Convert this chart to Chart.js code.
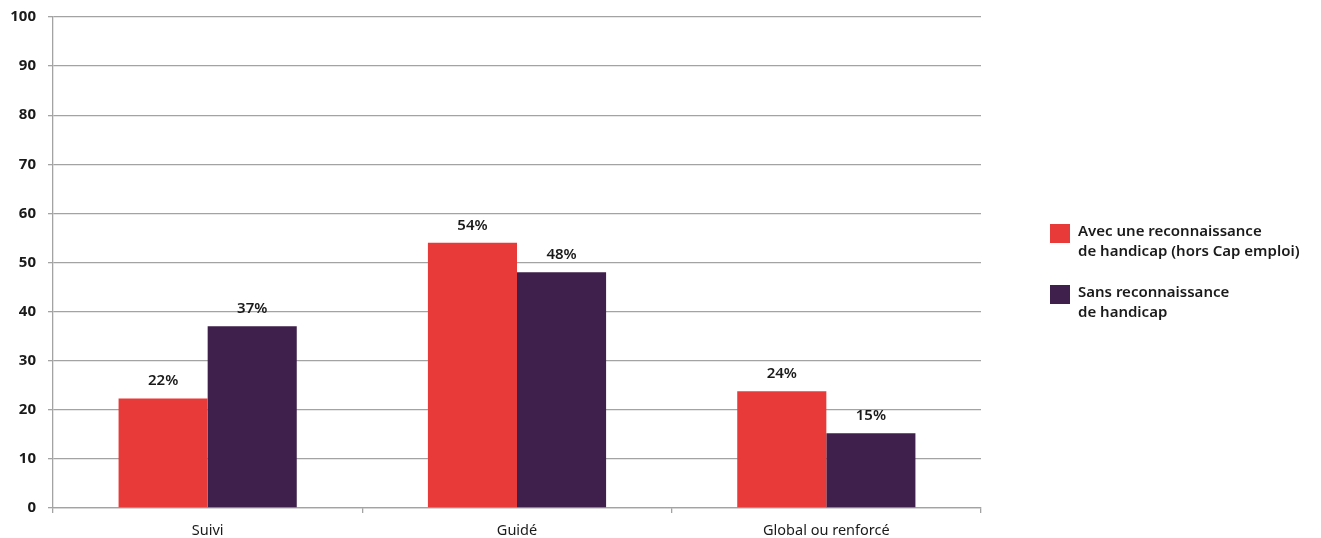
<!DOCTYPE html>
<html>
<head>
<meta charset="utf-8">
<script src="https://cdn.jsdelivr.net/npm/chart.js@4"></script>
<style>
  html, body { margin: 0; padding: 0; background: #fff; }
  #wrap { width: 1321px; height: 538px; }
</style>
</head>
<body>
<div id="wrap"><canvas id="chart" width="1321" height="538"></canvas></div>
<script>
const categories = ["Suivi", "Guidé", "Global ou renforcé"]
const avecValues = [22.3, 54, 23.8]
const sansValues = [37, 48, 15.2]
const avecLabels = ["22%", "54%", "24%"]
const sansLabels = ["37%", "48%", "15%"]
const yTicks = [0, 10, 20, 30, 40, 50, 60, 70, 80, 90, 100]
const legendLines = [
  ["Avec une reconnaissance", "de handicap (hors Cap emploi)"],
  ["Sans reconnaissance", "de handicap"],
]

const RED = "#e83a38"
const PURPLE = "#3f1f4b"
const GRID = "#a3a3a3"
const FONT = "'Noto Sans', 'Open Sans', sans-serif"

const valueLabels = {
  id: "valueLabels",
  afterDatasetsDraw(chart) {
    const ctx = chart.ctx
    ctx.save()
    ctx.font = "600 15px " + FONT
    ctx.fillStyle = "#1a1a1a"
    ctx.textAlign = "center"
    ctx.textBaseline = "bottom"
    const texts = [avecLabels, sansLabels]
    chart.data.datasets.forEach((ds, i) => {
      chart.getDatasetMeta(i).data.forEach((bar, j) => {
        ctx.fillText(texts[i][j], bar.x, bar.y - 10)
      })
    })
    ctx.restore()
  },
}

const sideLegend = {
  id: "sideLegend",
  afterDraw(chart) {
    const ctx = chart.ctx
    ctx.save()
    ctx.font = "600 15px " + FONT
    ctx.textBaseline = "middle"
    const x0 = 1050
    const tops = [224, 285]
    chart.data.datasets.forEach((ds, i) => {
      ctx.fillStyle = ds.backgroundColor
      ctx.fillRect(x0, tops[i], 20, 19)
      ctx.fillStyle = "#1a1a1a"
      legendLines[i].forEach((line, k) => {
        ctx.fillText(line, x0 + 28, tops[i] + 8 + k * 20)
      })
    })
    ctx.restore()
  },
}

new Chart(document.getElementById("chart").getContext("2d"), {
  type: "bar",
  data: {
    labels: categories,
    datasets: [
      {
        label: "Avec une reconnaissance de handicap (hors Cap emploi)",
        data: avecValues,
        backgroundColor: RED,
        categoryPercentage: 0.576,
        barPercentage: 1.0,
      },
      {
        label: "Sans reconnaissance de handicap",
        data: sansValues,
        backgroundColor: PURPLE,
        categoryPercentage: 0.576,
        barPercentage: 1.0,
      },
    ],
  },
  options: {
    responsive: false,
    animation: false,
    layout: { padding: { top: 17, right: 340, left: 0, bottom: 0 } },
    plugins: {
      legend: { display: false },
      tooltip: { enabled: false },
    },
    scales: {
      x: {
        grid: {
          drawOnChartArea: false,
          color: GRID,
          lineWidth: 1.3,
          tickLength: 5,
        },
        border: { color: GRID, width: 1.3 },
        ticks: {
          color: "#1a1a1a",
          font: { family: FONT, size: 14.5 },
          padding: 9,
        },
        afterFit(scale) { scale.height = 30 },
      },
      y: {
        min: 0,
        max: 100,
        afterBuildTicks(scale) { scale.ticks = yTicks.map((v) => ({ value: v })) },
        grid: { color: GRID, lineWidth: 1.3, tickLength: 5 },
        border: { color: GRID, width: 1.3 },
        ticks: {
          color: "#1a1a1a",
          font: { family: FONT, size: 15, weight: "bold" },
          padding: 12,
        },
        afterFit(scale) {
          scale.width = 53
          scale.paddingTop = 0
          scale.paddingBottom = 0
        },
      },
    },
  },
  plugins: [valueLabels, sideLegend],
})
</script>
</body>
</html>
